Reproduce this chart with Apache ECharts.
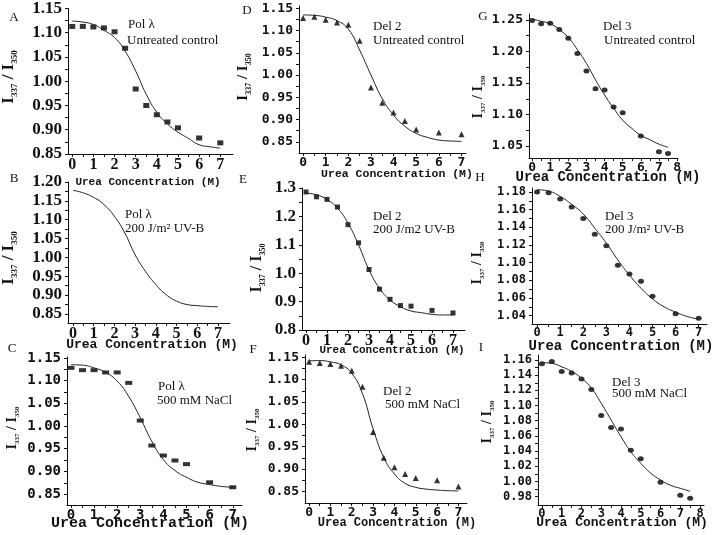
<!DOCTYPE html>
<html><head><meta charset="utf-8">
<script src="https://cdn.jsdelivr.net/npm/echarts@6/dist/echarts.min.js"></script>
<style>html,body{margin:0;padding:0;background:#fff}#c{width:716px;height:535px}</style>
</head><body><div id="c"></div>
<script>
// ---------- data ----------
const ureaPts = [0,0.5,1,1.5,2,2.5,3,3.5,4,4.5,5,6,7];
const ureaPts8 = [0,0.5,1,1.5,2,2.5,3,3.5,4,4.5,5,6,7,7.5];
const fitX7 = [0,0.5,1,1.5,2,2.5,3,3.5,4,4.5,5,5.5,6,6.5,7];
const fitX8 = [0,0.5,1,1.5,2,2.5,3,3.5,4,4.5,5,5.5,6,6.5,7,7.5];

const ptsA = [1.113,1.113,1.112,1.110,1.102,1.068,0.984,0.950,0.931,0.916,0.904,0.883,0.873];
const fitA = [1.124,1.122,1.117,1.105,1.090,1.062,1.021,0.973,0.936,0.912,0.895,0.882,0.869,0.865,0.862];
const fitB = [1.178,1.171,1.159,1.140,1.109,1.065,1.007,0.963,0.928,0.901,0.884,0.875,0.872,0.870,0.869];
const ptsC = [1.128,1.123,1.123,1.118,1.118,1.095,1.012,0.957,0.935,0.924,0.916,0.876,0.865];
const fitC = [1.135,1.134,1.128,1.118,1.099,1.065,1.018,0.966,0.926,0.902,0.887,0.876,0.871,0.867,0.865];
const ptsD = [1.128,1.131,1.124,1.118,1.113,1.077,0.972,0.938,0.916,0.897,0.878,0.871,0.867];
const fitD = [1.135,1.134,1.130,1.122,1.103,1.056,1.000,0.947,0.910,0.885,0.869,0.860,0.854,0.852,0.851];
const ptsE = [1.286,1.269,1.260,1.233,1.171,1.107,1.013,0.944,0.908,0.886,0.884,0.869,0.860];
const fitE = [1.282,1.276,1.259,1.229,1.176,1.100,1.012,0.947,0.906,0.882,0.867,0.861,0.855,0.853,0.853];
const ptsF = [1.140,1.137,1.135,1.131,1.120,1.084,0.983,0.925,0.904,0.889,0.880,0.875,0.861];
const fitF = [1.142,1.1425,1.1395,1.133,1.114,1.069,0.990,0.926,0.889,0.868,0.859,0.855,0.853,0.8515,0.851];
const ptsG = [1.249,1.244,1.245,1.235,1.221,1.197,1.169,1.141,1.139,1.112,1.103,1.066,1.041,1.038];
const fitG = [1.2515,1.248,1.244,1.235,1.222,1.203,1.181,1.155,1.131,1.110,1.091,1.078,1.067,1.060,1.053,1.048];
const ptsH = [1.180,1.179,1.172,1.163,1.150,1.132,1.119,1.097,1.087,1.079,1.062,1.042,1.037];
const fitH = [1.1826,1.181,1.175,1.166,1.155,1.139,1.122,1.103,1.086,1.071,1.059,1.050,1.044,1.039,1.036];
const ptsI = [1.155,1.158,1.145,1.143,1.135,1.121,1.087,1.071,1.069,1.041,1.030,0.999,0.982,0.978];
const fitI = [1.1565,1.1556,1.151,1.145,1.136,1.123,1.103,1.081,1.059,1.039,1.024,1.011,1.002,0.995,0.991,0.987];

const yTicks085_115 = [0.85,0.90,0.95,1.00,1.05,1.10,1.15];
const yTicks085_120 = [0.85,0.90,0.95,1.00,1.05,1.10,1.15,1.20];
const yTicksE = [0.8,0.9,1.0,1.1,1.2,1.3];
const yTicksG = [1.05,1.10,1.15,1.20,1.25];
const yTicksH = [1.04,1.06,1.08,1.10,1.12,1.14,1.16,1.18];
const yTicksI = [0.98,1.00,1.02,1.04,1.06,1.08,1.10,1.12,1.14,1.16];
const xTicks7 = [0,1,2,3,4,5,6,7];
const xTicks8 = [0,1,2,3,4,5,6,7,8];

const xTitle = 'Urea Concentration (M)';
const yTitleRich = '{i|I}{s|337}{i| / I}{s|350}';

// ---------- layout ----------
const SERIF = '"Liberation Serif", "Times New Roman", serif';
const MONO = '"DejaVu Sans Mono", monospace';
const panels = [
 {L:'A', px:ptsA, fx:fitA, ux:ureaPts, fxx:fitX7, left:68, top:7, w:165, h:147, xmin:-0.2, xmax:7.6, ymin:0.85, ymax:1.15, yt:yTicks085_115, xt:xTicks7, dec:2, big:true, sym:'rect', ss:[6,5],
  letter:[14,18], yname:[9,77,17], xname:[148,182,11], ann:[['Pol λ',128,25],['Untreated control',127,41]]},
 {L:'B', px:null, fx:fitB, ux:ureaPts, fxx:fitX7, left:68, top:182, w:162, h:141, xmin:-0.24, xmax:7.58, ymin:0.826, ymax:1.20, yt:yTicks085_120, xt:xTicks7, dec:2, big:true,
  letter:[14,179], yname:[9,258,17], xname:[152,345,13], ann:[['Pol λ',125,215],['200 J/m² UV-B',125,229]]},
 {L:'C', px:ptsC, fx:fitC, ux:ureaPts, fxx:fitX7, left:67, top:357, w:175, h:148, xmin:-0.17, xmax:7.4, ymin:0.826, ymax:1.152, yt:yTicks085_115, xt:xTicks7, dec:2, big:false, fs:14, sym:'rect', ss:[7,4],
  letter:[12,349], yname:[12,428,14], xname:[150,523,15], ann:[['Pol λ',158,387],['500 mM NaCl',157,401]]},
 {L:'D', px:ptsD, fx:fitD, ux:ureaPts, fxx:fitX7, left:299, top:6, w:167, h:147, xmin:-0.18, xmax:7.2, ymin:0.825, ymax:1.155, yt:yTicks085_115, xt:xTicks7, dec:2, big:false, fs:13, sym:'triangle', ss:6,
  letter:[247,11], yname:[243,77,15], xname:[397,174,11.5], ann:[['Del 2',373,27],['Untreated control',373,41]]},
 {L:'E', px:ptsE, fx:fitE, ux:ureaPts, fxx:fitX7, left:302, top:188, w:163, h:142, xmin:-0.19, xmax:7.57, ymin:0.8, ymax:1.3, yt:yTicksE, xt:xTicks7, dec:1, big:true, sym:'rect', ss:[5,5],
  letter:[243,180], yname:[257,268,16], xname:[392,350,11], ann:[['Del 2',373,217],['200 J/m2 UV-B',373,230]]},
 {L:'F', px:ptsF, fx:fitF, ux:ureaPts, fxx:fitX7, left:305, top:355, w:162, h:148, xmin:-0.19, xmax:7.4, ymin:0.824, ymax:1.155, yt:yTicks085_115, xt:xTicks7, dec:2, big:false, fs:13, sym:'triangle', ss:6,
  letter:[253,350], yname:[252,430,14], xname:[397,523,12], ann:[['Del 2',383,392],['500 mM NaCl',385,405]]},
 {L:'G', px:ptsG, fx:fitG, ux:ureaPts8, fxx:fitX8, left:529, top:14, w:149, h:144, xmin:-0.17, xmax:8.05, ymin:1.031, ymax:1.2595, yt:yTicksG, xt:xTicks8, dec:2, big:false, fs:13, sym:'circle', ss:[6,5],
  letter:[483,17], yname:[478,97,14], xname:[608,177,14], ann:[['Del 3',603,27],['Untreated control',604,41]]},
 {L:'H', px:ptsH, fx:fitH, ux:ureaPts, fxx:fitX7, left:532, top:188, w:175, h:136, xmin:-0.22, xmax:7.36, ymin:1.0305, ymax:1.1845, yt:yTicksH, xt:xTicks7, dec:2, big:false, fs:12, sym:'circle', ss:[6,5],
  letter:[480,178], yname:[477,263,14], xname:[621,346,14], ann:[['Del 3',605,217],['200 J/m² UV-B',605,230]]},
 {L:'I', px:ptsI, fx:fitI, ux:ureaPts8, fxx:fitX8, left:538, top:355, w:166, h:150, xmin:-0.2, xmax:8.2, ymin:0.969, ymax:1.1666, yt:yTicksI, xt:xTicks8, dec:2, big:false, fs:12, sym:'circle', ss:[6,5],
  letter:[481,348], yname:[487,422,14], xname:[622,523,13], ann:[['Del 3',612,383],['500 mM NaCl',612,394]]}
];

function midTicks(arr){
  const out=[];
  for(let i=0;i<arr.length;i++){ out.push(arr[i]); if(i<arr.length-1) out.push((arr[i]+arr[i+1])/2); }
  return out;
}

const grids=[], xAxes=[], yAxes=[], series=[], graphics=[];
panels.forEach((p,i)=>{
  grids.push({left:p.left, top:p.top, width:p.w, height:p.h, containLabel:false});
  const lblFont = p.big ? {fontFamily:SERIF, fontWeight:'bold', fontSize:17} : {fontFamily:MONO, fontWeight:'bold', fontSize:p.fs};
  const xlblFont = p.big ? {fontFamily:SERIF, fontWeight:'bold', fontSize:16} : {fontFamily:MONO, fontWeight:'bold', fontSize:p.fs};
  const axisLine = {show:true, onZero:false, lineStyle:{color:'#111', width:1}};
  xAxes.push({gridIndex:i, type:'value', min:p.xmin, max:p.xmax, splitLine:{show:false}, axisLine,
    axisTick:{show:true, length:3, lineStyle:{color:'#111'}, customValues:midTicks(p.xt)},
    axisLabel:{color:'#111', margin:3, customValues:p.xt, formatter:v=>String(Math.round(v)), ...xlblFont}});
  yAxes.push({gridIndex:i, type:'value', min:p.ymin, max:p.ymax, splitLine:{show:false}, axisLine,
    axisTick:{show:true, length:3, lineStyle:{color:'#111'}, customValues:midTicks(p.yt)},
    axisLabel:{color:'#111', margin:6, customValues:p.yt, formatter:v=>v.toFixed(p.dec), ...lblFont}});
  series.push({type:'line', xAxisIndex:i, yAxisIndex:i, smooth:true, symbol:'none', silent:true,
    lineStyle:{color:'#222', width:1}, data:p.fxx.map((x,k)=>[x,p.fx[k]])});
  if(p.px){
    series.push({type:'scatter', xAxisIndex:i, yAxisIndex:i, symbol:p.sym, symbolSize:p.ss, silent:true,
      itemStyle:{color:'#000'}, data:p.ux.map((x,k)=>[x,p.px[k]])});
  }
  graphics.push({type:'text', x:p.letter[0], y:p.letter[1], style:{text:p.L, font:'13px '+SERIF, fill:'#111', textAlign:'center', textVerticalAlign:'middle'}});
  graphics.push({type:'text', x:p.xname[0], y:p.xname[1], style:{text:xTitle, font:'bold '+p.xname[2]+'px "Liberation Mono", monospace', fill:'#111', textAlign:'center', textVerticalAlign:'middle'}});
  const ys=p.yname[2];
  graphics.push({type:'text', x:p.yname[0], y:p.yname[1], rotation:Math.PI/2,
    style:{text:yTitleRich, fill:'#111', textAlign:'center', textVerticalAlign:'middle',
      rich:{i:{fontFamily:SERIF, fontWeight:'bold', fontSize:ys, lineHeight:ys+4, fill:'#111'},
            s:{fontFamily:SERIF, fontWeight:'bold', fontSize:Math.round(ys*0.5), lineHeight:Math.round(ys*0.6), verticalAlign:'bottom', fill:'#111'}}}});
  p.ann.forEach(a=>{
    graphics.push({type:'text', x:a[1], y:a[2], style:{text:a[0], font:'13px '+SERIF, fill:'#111', textAlign:'left', textVerticalAlign:'middle'}});
  });
});

const chart = echarts.init(document.getElementById('c'), null, {renderer:'canvas'});
chart.setOption({animation:false, backgroundColor:'#fff', grid:grids, xAxis:xAxes, yAxis:yAxes, series, graphic:graphics});
</script></body></html>
